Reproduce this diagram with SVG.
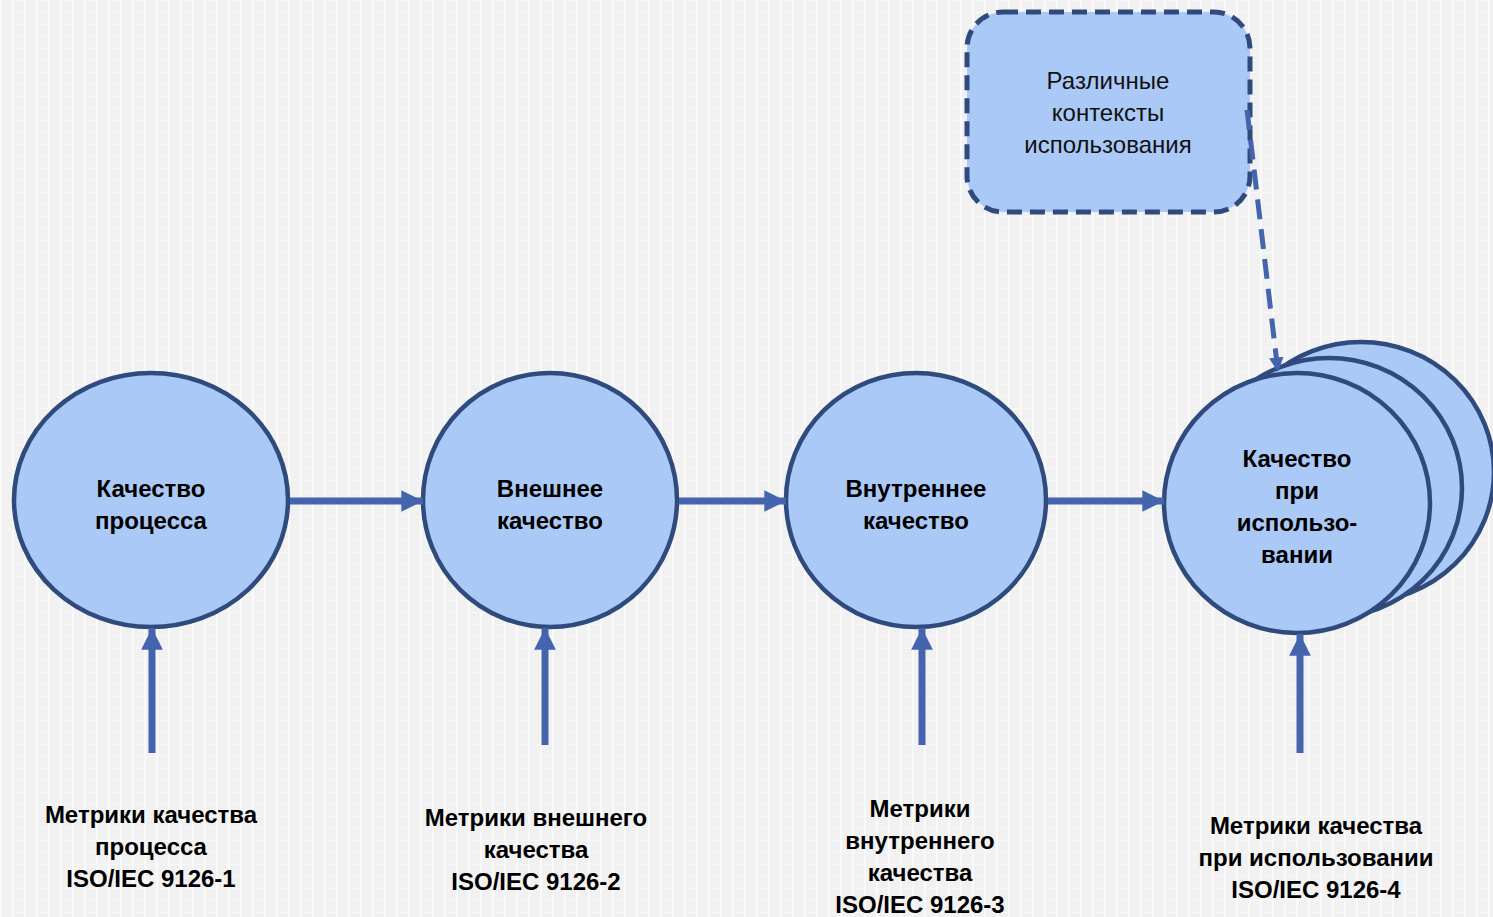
<svg xmlns="http://www.w3.org/2000/svg" width="1493" height="917" viewBox="0 0 1493 917">
<style>
.node{fill:#abc9f6;stroke:#2f4a7c;stroke-width:4.5}
.box{fill:#abc9f6;stroke:#2f4a7c;stroke-width:5;stroke-dasharray:15 8}
.conn{stroke:#4464ae;stroke-width:7;fill:none}
.dconn{stroke:#4464ae;stroke-width:5;fill:none;stroke-dasharray:20 10}
.t{font-family:"Liberation Sans",Arial,sans-serif;font-size:24px;font-weight:bold;fill:#000;text-anchor:middle}
.r{font-family:"Liberation Sans",Arial,sans-serif;font-size:24px;fill:#111;text-anchor:middle}
</style>
<defs>
<pattern id="bg" width="12" height="12" patternUnits="userSpaceOnUse">
<rect width="12" height="12" fill="#f1f1f1"/>
<rect x="0" y="0" width="2" height="12" fill="#fafafa"/>
<rect x="0" y="0" width="12" height="1" fill="#f7f7f7"/>
</pattern>
<marker id="ah" viewBox="0 0 10 10" refX="10" refY="5" markerWidth="3.1" markerHeight="3.2" markerUnits="strokeWidth" orient="auto">
<path d="M0,0 L10,5 L0,10 Z" fill="#4464ae"/>
</marker>
<marker id="ahd" viewBox="0 0 10 10" refX="10" refY="5" markerWidth="2.9" markerHeight="3" markerUnits="strokeWidth" orient="auto">
<path d="M0,0 L10,5 L0,10 Z" fill="#4464ae"/>
</marker>
</defs>
<rect width="1493" height="917" fill="url(#bg)"/>

<g id="node-contexts">
<rect class="box" x="967" y="12" width="283" height="200" rx="36" ry="36"/>
<text class="r" x="1108" y="89">Различные</text>
<text class="r" x="1108" y="121">контексты</text>
<text class="r" x="1108" y="153">использования</text>
</g>

<g id="node-process">
<ellipse class="node" cx="151" cy="500" rx="137" ry="127"/>
<text class="t" x="151" y="497">Качество</text>
<text class="t" x="151" y="529">процесса</text>
</g>

<g id="node-external">
<ellipse class="node" cx="550" cy="500" rx="127" ry="127"/>
<text class="t" x="550" y="497">Внешнее</text>
<text class="t" x="550" y="529">качество</text>
</g>

<g id="node-internal">
<ellipse class="node" cx="916" cy="500" rx="130" ry="127"/>
<text class="t" x="916" y="497">Внутреннее</text>
<text class="t" x="916" y="529">качество</text>
</g>

<g id="node-inuse">
<ellipse class="node" cx="1361" cy="472" rx="133" ry="130"/>
<ellipse class="node" cx="1329" cy="488" rx="133" ry="130"/>
<ellipse class="node" cx="1297" cy="503" rx="133" ry="130"/>
<text class="t" x="1297" y="467">Качество</text>
<text class="t" x="1297" y="499">при</text>
<text class="t" x="1297" y="531">использо-</text>
<text class="t" x="1297" y="563">вании</text>
</g>

<g id="label-m1">
<text class="t" x="151" y="823">Метрики качества</text>
<text class="t" x="151" y="855">процесса</text>
<text class="t" x="151" y="887">ISO/IEC 9126-1</text>
</g>
<g id="label-m2">
<text class="t" x="536" y="826">Метрики внешнего</text>
<text class="t" x="536" y="858">качества</text>
<text class="t" x="536" y="890">ISO/IEC 9126-2</text>
</g>
<g id="label-m3">
<text class="t" x="920" y="817">Метрики</text>
<text class="t" x="920" y="849">внутреннего</text>
<text class="t" x="920" y="881">качества</text>
<text class="t" x="920" y="913">ISO/IEC 9126-3</text>
</g>
<g id="label-m4">
<text class="t" x="1316" y="834">Метрики качества</text>
<text class="t" x="1316" y="866">при использовании</text>
<text class="t" x="1316" y="898">ISO/IEC 9126-4</text>
</g>

<g id="connectors">
<line class="conn" x1="290" y1="501" x2="423" y2="501" marker-end="url(#ah)"/>
<line class="conn" x1="679" y1="501" x2="786" y2="501" marker-end="url(#ah)"/>
<line class="conn" x1="1048" y1="501" x2="1164" y2="501" marker-end="url(#ah)"/>
<line class="conn" x1="152" y1="753" x2="152" y2="628" marker-end="url(#ah)"/>
<line class="conn" x1="545" y1="745" x2="545" y2="628" marker-end="url(#ah)"/>
<line class="conn" x1="922" y1="745" x2="922" y2="628" marker-end="url(#ah)"/>
<line class="conn" x1="1300" y1="753" x2="1300" y2="634" marker-end="url(#ah)"/>
<line class="dconn" x1="1247" y1="110" x2="1278" y2="372" marker-end="url(#ahd)"/>
</g>
</svg>
